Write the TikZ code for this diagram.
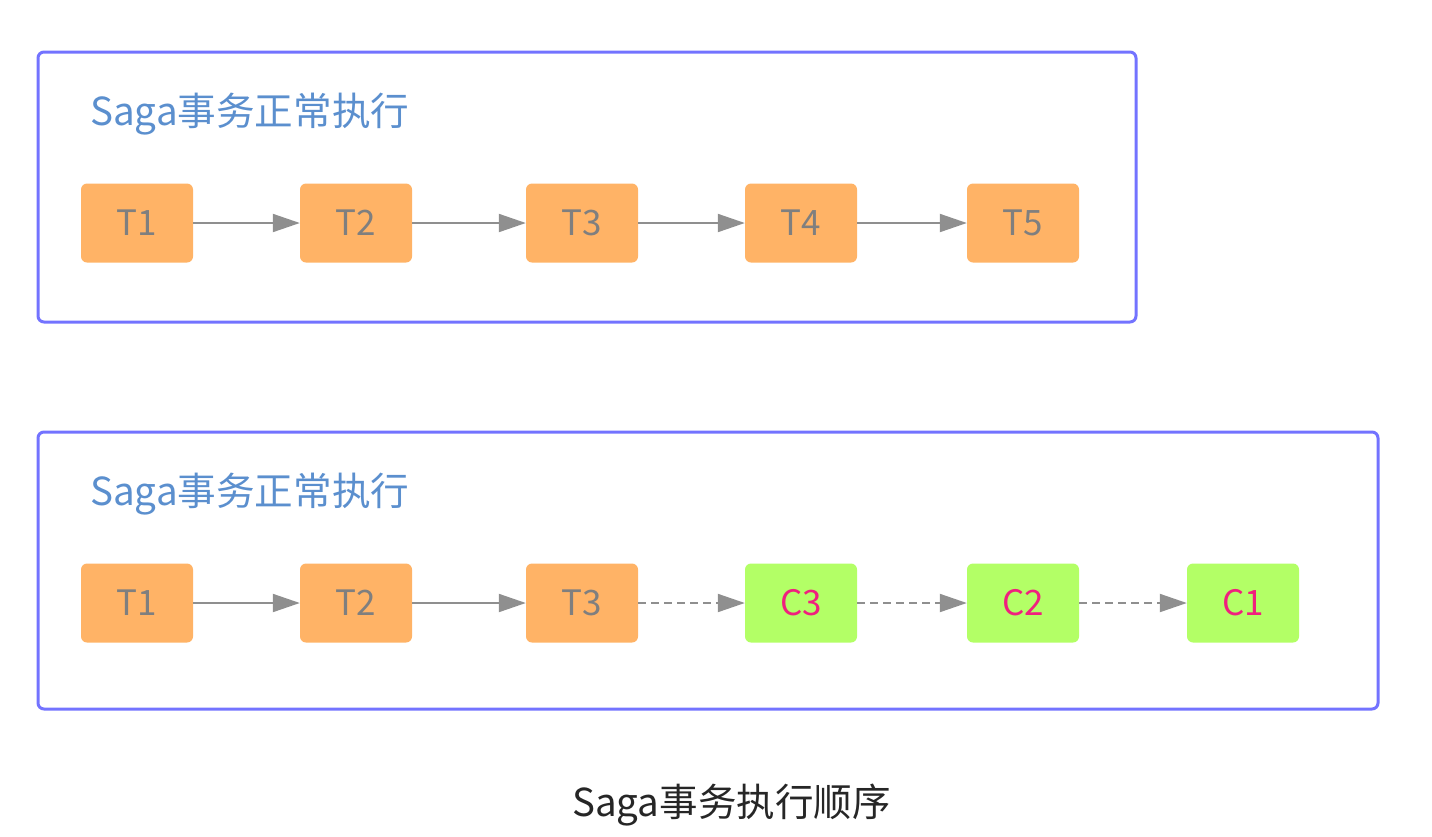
\documentclass[tikz,border=0pt]{standalone}
\usepackage{fontspec}
\setmainfont{Noto Sans CJK SC}
\usetikzlibrary{arrows.meta}
\definecolor{frame}{HTML}{7373FF}
\definecolor{tfill}{HTML}{FFB366}
\definecolor{cfill}{HTML}{B3FF66}
\definecolor{ttext}{HTML}{7F7F7F}
\definecolor{ctext}{HTML}{F0207E}
\definecolor{title}{HTML}{5B8FCE}
\definecolor{arr}{HTML}{8F8F8F}
\tikzset{
  panel/.style={draw=frame, line width=3pt, rounded corners=6pt},
  tbox/.style={fill=tfill, rounded corners=6pt, minimum width=112pt, minimum height=79pt, inner sep=0pt, text=ttext, font=\fontsize{35}{35}\selectfont},
  cbox/.style={tbox, fill=cfill, text=ctext},
  flow/.style={draw=arr, line width=2pt, -{Triangle[length=27pt,width=18pt]}},
  dflow/.style={flow, dash pattern=on 8pt off 5pt},
  ttl/.style={anchor=base west, inner sep=0pt, text=title, font=\fontsize{38.6}{38.6}\selectfont},
}
\begin{document}
\begin{tikzpicture}[x=1pt,y=-1pt]
\useasboundingbox (0,0) rectangle (1432,836);
\draw[panel] (38,52) rectangle (1136,322);
\draw[panel] (38,432) rectangle (1378,709);
\node[ttl] (t1) at (90,125) {Saga事务正常执行};
\node[ttl] (t2) at (90,505) {Saga事务正常执行};
\node[tbox] (a1) at (137,223) {T1};
\node[tbox] (a2) at (356,223) {T2};
\node[tbox] (a3) at (582,223) {T3};
\node[tbox] (a4) at (801,223) {T4};
\node[tbox] (a5) at (1023,223) {T5};
\draw[flow] (a1) -- (a2);
\draw[flow] (a2) -- (a3);
\draw[flow] (a3) -- (a4);
\draw[flow] (a4) -- (a5);
\node[tbox] (b1) at (137,603) {T1};
\node[tbox] (b2) at (356,603) {T2};
\node[tbox] (b3) at (582,603) {T3};
\node[cbox] (c3) at (801,603) {C3};
\node[cbox] (c2) at (1023,603) {C2};
\node[cbox] (c1) at (1243,603) {C1};
\draw[flow] (b1) -- (b2);
\draw[flow] (b2) -- (b3);
\draw[dflow] (b3) -- (c3);
\draw[dflow] (c3) -- (c2);
\draw[dflow] (c2) -- (c1);
\node[anchor=base west, inner sep=0pt, text=black!85, font=\fontsize{38.5}{38.5}\selectfont] (cap) at (572,816) {Saga事务执行顺序};
\end{tikzpicture}
\end{document}
